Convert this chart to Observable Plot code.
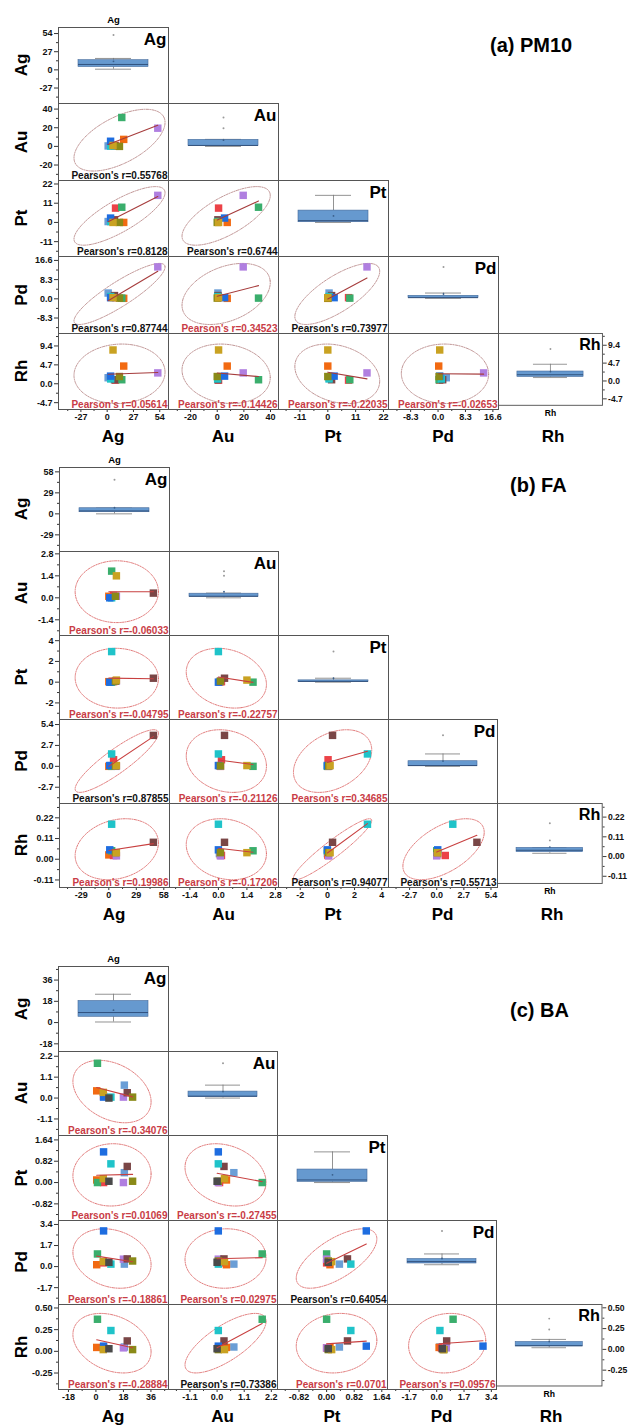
<!DOCTYPE html>
<html><head><meta charset="utf-8">
<script src="https://cdn.jsdelivr.net/npm/d3@7"></script>
<script src="https://cdn.jsdelivr.net/npm/@observablehq/plot@0.6"></script>
<style>
body{margin:0;background:#fff;font-family:"Liberation Sans",Arial,sans-serif;}
#root{position:relative;width:636px;height:1425px;overflow:hidden;background:#fff;}
.cell{position:absolute;}
.ttl{position:absolute;font-weight:bold;color:#000;white-space:nowrap;}
</style></head><body><div id="root"></div>
<script>
// ---------- data ----------
const elements = ["Ag","Au","Pt","Pd","Rh"];
const sampleIds = ["S1","S2","S3","S4","S5","S6","S7","S8","S9","S10","S11"];
const sampleColors = ["#6a9ed6","#f26a12","#ec4247","#3aae6c","#b07fe0","#7a4646","#1fc3c9","#1e6de0","#8a8a18","#c9a222","#4a4a4a"];

// (a) PM10
const pm10Ag = [1, 17, 8.6, 15, 52, 7.5, 3.6, 3.5, 12.6, 6];
const pm10Au = [0.5, 7.5, 1, 31, 19.5, 0.5, 0.3, 5.5, 0, 1];
const pm10Pt = [0.5, 0, 8.2, 8.7, 15.5, 1.5, 0.5, 2.5, 0, 0];
const pm10Pd = [2.5, 0.2, 0.5, 0.3, 13.8, 1.4, 1.0, 0.5, 0.3, 0.5];
const pm10Rh = [1.5, 4.4, 0.9, 1.0, 2.7, 1.0, 1.2, 1.9, 1.8, 8.4];
const pm10R = ["0.55768","0.8128","0.6744","0.87744","0.34523","0.73977","0.05614","-0.14426","-0.22035","-0.02653"];
const pm10Ticks = [[-27,0,27,54],[-20,0,20,40],[-11,0,11,22],[-8.3,0,8.3,16.6],[-4.7,0,4.7,9.4]];
const pm10TickLabels = [["-27","0","27","54"],["-20","0","20","40"],["-11","0","11","22"],["-8.3","0.0","8.3","16.6"],["-4.7","0.0","4.7","9.4"]];
const pm10Domains = [[-50,63],[-36.6,46],[-19.5,24],[-15,18.3],[-6.4,12.5]];

// (b) FA
const faAg = [2, 0, 5, 3, 8, 47, 3, 1, 7, 8];
const faAu = [0.05, 0.1, 0.15, 1.7, 0.1, 0.3, 0, 0, 0.1, 1.4];
const faPt = [0, 0.05, 0.05, 0, 0.1, 0.38, 2.95, 0, 0.1, 0.2];
const faPd = [0.1, 0, 0.85, 0, 0, 4.0, 1.6, 0.1, 0.05, 0.1];
const faRh = [0.03, 0.023, 0.02, 0.045, 0.018, 0.09, 0.186, 0.05, 0.035, 0.035];
const faR = ["-0.06033","-0.04795","-0.22757","0.87855","-0.21126","0.34685","0.19986","-0.17206","0.94077","0.55713"];
const faTicks = [[-29,0,29,58],[-1.4,0,1.4,2.8],[-2,0,2,4],[-2.7,0,2.7,5.4],[-0.11,0,0.11,0.22]];
const faTickLabels = [["-29","0","29","58"],["-1.4","0.0","1.4","2.8"],["-2","0","2","4"],["-2.7","0.0","2.7","5.4"],["-0.11","0.00","0.11","0.22"]];
const faDomains = [[-52,64],[-2.4,2.95],[-3.6,4.5],[-4.8,6.05],[-0.15,0.296]];

// (c) BA
const baAg = [18.6, 0.5, 5, 1, 18, 20.5, 9.8, 5, 24, 4.8, 8.5];
const baAu = [0.68, 0.38, 0.1, 1.83, 0.05, 0.28, 0.05, 0.05, 0.05, 0.3, 0];
const baPt = [0.38, 0.1, 0, 0, 0, 0.62, 0.72, 1.18, 0.05, 0.15, 0.05];
const baPd = [0.2, 0.15, 0.3, 1.02, 0.6, 0.62, 0.2, 2.88, 0.45, 0.4, 0.35];
const baRh = [0.05, 0.045, 0.04, 0.37, 0.04, 0.12, 0.24, 0.06, 0.02, 0.02, 0.03];
const baR = ["-0.34076","0.01069","-0.27455","-0.18861","0.02975","0.64054","-0.28884","0.73386","0.0701","0.09576"];
const baTicks = [[-18,0,18,36],[-1.1,0,1.1,2.2],[-0.82,0,0.82,1.64],[-1.7,0,1.7,3.4],[-0.25,0,0.25,0.5]];
const baTickLabels = [["-18","0","18","36"],["-1.1","0.0","1.1","2.2"],["-0.82","0.00","0.82","1.64"],["-1.7","0.0","1.7","3.4"],["-0.25","0.00","0.25","0.50"]];
const baDomains = [[-24.5,47.5],[-1.97,2.45],[-1.46,1.81],[-3.06,3.72],[-0.44,0.54]];

// ---------- layout ----------
const panels = [
  {title:"(a) PM10", values:[pm10Ag,pm10Au,pm10Pt,pm10Pd,pm10Rh], r:pm10R, ticks:pm10Ticks, labels:pm10TickLabels, domains:pm10Domains,
   x0:57.5, y0:27, cw:110, ch:76.4, titleX:490, titleY:45, axisTitleY:437, ell:"#b07a7a", fit:"#a63c3c"},
  {title:"(b) FA", values:[faAg,faAu,faPt,faPd,faRh], r:faR, ticks:faTicks, labels:faTickLabels, domains:faDomains,
   x0:59, y0:467, cw:109.6, ch:84, titleX:510, titleY:485, axisTitleY:915, ell:"#d95a5a", fit:"#c84040"},
  {title:"(c) BA", values:[baAg,baAu,baPt,baPd,baRh], r:baR, ticks:baTicks, labels:baTickLabels, domains:baDomains,
   x0:58, y0:966, cw:109.6, ch:84.6, titleX:510, titleY:1010, axisTitleY:1417, ell:"#d95a5a", fit:"#c84040"}
];

const root = document.getElementById("root");
const FONT = "'Liberation Sans', Arial, sans-serif";
const RED = "#c93c46", BLACK = "#111";

function minorTicks(t, dom) {
  const s = t[1] - t[0];
  const out = [t[0] - s/2, ...t.map(v => v + s/2)];
  return out.filter(v => v > dom[0] && v < dom[1]);
}

function confEllipse(xs, ys) {
  const n = xs.length, mx = d3.mean(xs), my = d3.mean(ys);
  const sxx = d3.variance(xs), syy = d3.variance(ys);
  const sxy = d3.sum(xs, (x, i) => (x - mx) * (ys[i] - my)) / (n - 1);
  const m = n - 2, F = m / 2 * (Math.pow(0.05, -2 / m) - 1);
  const k = Math.sqrt(2 * (n - 1) / (n - 2) * F);
  const tr = sxx + syy, det = sxx * syy - sxy * sxy;
  const disc = Math.sqrt(Math.max(tr * tr / 4 - det, 0));
  const l1 = tr / 2 + disc, l2 = Math.max(tr / 2 - disc, 0);
  const th = 0.5 * Math.atan2(2 * sxy, sxx - syy);
  return d3.range(0, 181).map(t => {
    const a = t / 180 * 2 * Math.PI;
    const u = k * Math.sqrt(l1) * Math.cos(a), v = k * Math.sqrt(l2) * Math.sin(a);
    return {x: mx + u * Math.cos(th) - v * Math.sin(th), y: my + u * Math.sin(th) + v * Math.cos(th)};
  });
}

function hiWhisker(values) {
  const s = values.slice().sort(d3.ascending);
  const q1 = d3.quantile(s, 0.25), q3 = d3.quantile(s, 0.75);
  return d3.max(s.filter(v => v <= q3 + 1.5 * (q3 - q1)));
}
function loWhisker(values) {
  const s = values.slice().sort(d3.ascending);
  const q1 = d3.quantile(s, 0.25), q3 = d3.quantile(s, 0.75);
  return d3.min(s.filter(v => v >= q1 - 1.5 * (q3 - q1)));
}

function addDiv(text, cls, css) {
  const d = document.createElement("div");
  d.className = cls; d.textContent = text;
  Object.assign(d.style, css);
  root.appendChild(d);
  return d;
}

panels.forEach(P => {
  const colX = d3.range(6).map(k => Math.round(P.x0 + k * P.cw));
  const rowY = d3.range(6).map(k => Math.round(P.y0 + k * P.ch));
  const n = P.values[0].length;
  const table = d3.range(n).map(k => {
    const o = {sample: sampleIds[k]};
    elements.forEach((e, ei) => o[e] = P.values[ei][k]);
    return o;
  });
  let pairIdx = 0;
  for (let i = 0; i < 5; i++) {
    for (let j = 0; j <= i; j++) {
      const w = colX[j + 1] - colX[j], h = rowY[i + 1] - rowY[i];
      const mL = j === 0 ? 52 : 0, mR = (i === 4 && j === 4) ? 36 : 0;
      const mT = (i === 0 && j === 0) ? 16 : 0, mB = i === 4 ? 16 : 0;
      const yDom = P.domains[i], xDom = P.domains[j];
      const marks = [];
      const fmt = (ticks, labels) => { const m = new Map(ticks.map((t, k) => [t, labels[k]])); return d => m.get(d) ?? ""; };
      if (i === j) {
        const vals = P.values[i];
        const s = vals.slice().sort(d3.ascending);
        const q1 = d3.quantile(s, 0.25), q3 = d3.quantile(s, 0.75), iqr = q3 - q1;
        marks.push(
          Plot.ruleX(vals, Plot.groupZ({y1: "p75", y2: hiWhisker}, {x: null, y: d => d, stroke: "#777", strokeWidth: 0.8})),
          Plot.ruleX(vals, Plot.groupZ({y1: loWhisker, y2: "p25"}, {x: null, y: d => d, stroke: "#777", strokeWidth: 0.8})),
          Plot.tickY(vals, Plot.groupZ({y: hiWhisker}, {y: d => d, stroke: "#777", strokeWidth: 0.8, insetLeft: 37, insetRight: 37})),
          Plot.tickY(vals, Plot.groupZ({y: loWhisker}, {y: d => d, stroke: "#777", strokeWidth: 0.8, insetLeft: 37, insetRight: 37})),
          Plot.barY(vals, Plot.groupZ({y1: "p25", y2: "p75"}, {y: d => d, fill: "#6699cf", stroke: "#44699a", strokeWidth: 0.6, insetLeft: 20, insetRight: 20})),
          Plot.tickY(vals, Plot.groupZ({y: "median"}, {y: d => d, stroke: "#2b4a75", strokeWidth: 0.9, insetLeft: 20, insetRight: 20})),
          Plot.dot(vals, Plot.groupZ({y: "mean"}, {y: d => d, r: 0.9, fill: "#3a5f8a", stroke: null})),
          Plot.dot(vals, {y: d => d, filter: d => d > q3 + 1.5 * iqr || d < q1 - 1.5 * iqr, r: 1, fill: "#9a9a9a", stroke: null}),
          Plot.text([elements[i]], {text: d => d, frameAnchor: "top-right", dx: -2, dy: 5, fontSize: 17, fontWeight: "bold", fill: "#000"})
        );
      } else {
        const xs = P.values[j], ys = P.values[i];
        const rTxt = P.r[pairIdx++];
        const col = parseFloat(rTxt) > 0.5 ? BLACK : RED;
        marks.push(
          Plot.line(confEllipse(xs, ys), {x: "x", y: "y", stroke: P.ell, strokeWidth: 0.8, strokeDasharray: "2.5,1.2,0.8,1.2", clip: true}),
          Plot.dot(table, {x: elements[j], y: elements[i], fill: "sample", symbol: "square", r: 4.2, stroke: null}),
          Plot.linearRegressionY(table, {x: elements[j], y: elements[i], stroke: P.fit, strokeWidth: 1.1, ci: 0}),
          Plot.text([rTxt], {text: d => "Pearson's r=" + d, frameAnchor: "bottom-right", dx: -1, dy: -2, fontSize: 10, fontWeight: "bold", fill: col})
        );
      }
      if (j === 0) {
        marks.push(
          Plot.axisY({anchor: "left", ticks: P.ticks[i], tickFormat: fmt(P.ticks[i], P.labels[i]), tickSize: 4, tickPadding: 2, fontSize: 9, fontWeight: "bold", label: null, stroke: "#333"}),
          Plot.axisY({anchor: "left", ticks: minorTicks(P.ticks[i], yDom), tickFormat: () => "", tickSize: 2, label: null, stroke: "#333"})
        );
      }
      if (i === 4 && j < 4) {
        marks.push(
          Plot.axisX({anchor: "bottom", ticks: P.ticks[j], tickFormat: fmt(P.ticks[j], P.labels[j]), tickSize: 3, tickPadding: 1, fontSize: 9, fontWeight: "bold", label: null, stroke: "#333"}),
          Plot.axisX({anchor: "bottom", ticks: minorTicks(P.ticks[j], xDom), tickFormat: () => "", tickSize: 2, label: null, stroke: "#333"})
        );
      }
      if (i === 4 && j === 4) {
        marks.push(
          Plot.axisY({anchor: "right", ticks: P.ticks[i], tickFormat: fmt(P.ticks[i], P.labels[i]), tickSize: 4, tickPadding: 2, fontSize: 9, fontWeight: "bold", label: null, stroke: "#333"}),
          Plot.axisY({anchor: "right", ticks: minorTicks(P.ticks[i], yDom), tickFormat: () => "", tickSize: 2, label: null, stroke: "#333"}),
          Plot.text([elements[4]], {text: d => d, frameAnchor: "bottom", dy: 5, lineAnchor: "top", fontSize: 9, fontWeight: "bold", fill: "#000"})
        );
      }
      if (i === 0 && j === 0) {
        marks.push(Plot.text([elements[0]], {text: d => d, frameAnchor: "top", dy: -5, lineAnchor: "bottom", fontSize: 9.5, fontWeight: "bold", fill: "#000"}));
      }
      marks.push(Plot.frame({stroke: "#555", strokeWidth: 1}));
      const opts = {
        width: w + mL + mR, height: h + mT + mB,
        marginLeft: mL, marginRight: mR, marginTop: mT, marginBottom: mB,
        y: {domain: yDom, axis: null},
        color: {domain: sampleIds, range: sampleColors},
        style: {fontFamily: FONT, fontSize: "9px", color: "#111", background: "transparent", overflow: "visible"},
        marks
      };
      if (i !== j) opts.x = {domain: xDom, axis: null};
      const svg = Plot.plot(opts);
      const wrap = document.createElement("div");
      wrap.className = "cell";
      wrap.style.left = (colX[j] - mL) + "px";
      wrap.style.top = (rowY[i] - mT) + "px";
      wrap.appendChild(svg);
      root.appendChild(wrap);
    }
  }
  // axis titles
  for (let i = 0; i < 5; i++) {
    addDiv(elements[i], "ttl", {left: "22px", top: ((rowY[i] + rowY[i + 1]) / 2) + "px", fontSize: "17px",
      transform: "translate(-50%,-50%) rotate(-90deg)"});
    addDiv(elements[i], "ttl", {left: ((colX[i] + colX[i + 1]) / 2) + "px", top: P.axisTitleY + "px", fontSize: "17px",
      transform: "translate(-50%,-50%)"});
  }
  addDiv(P.title, "ttl", {left: P.titleX + "px", top: P.titleY + "px", fontSize: "20px", transform: "translate(0,-50%)"});
});
</script></body></html>
